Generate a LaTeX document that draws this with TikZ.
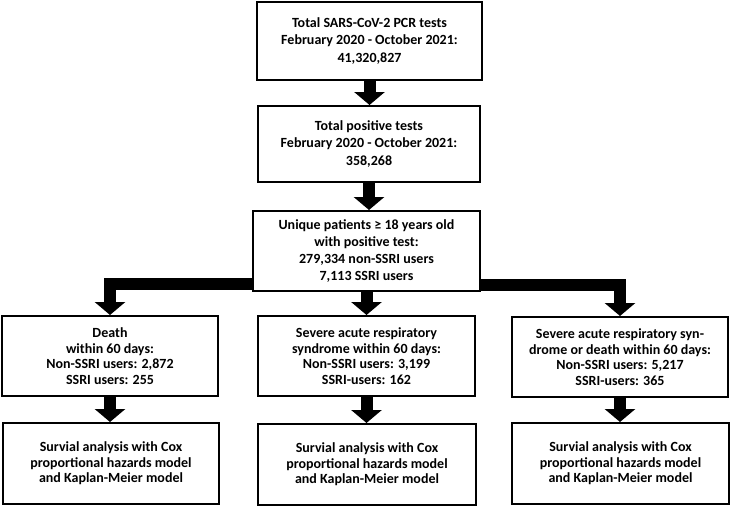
\documentclass[tikz,border=0pt]{standalone}
\usepackage{fontspec}
\setmainfont{Carlito}
\usetikzlibrary{arrows.meta}
\begin{document}
\begin{tikzpicture}[x=1pt,y=-1pt,
  box/.style={draw, line width=2pt, align=center, inner sep=0pt,
    font=\bfseries\fontsize{14}{15.6}\selectfont},
  big/.style={line width=12pt, line join=miter, -{Triangle[width=30pt,length=13pt]}}]
\useasboundingbox (0,0) rectangle (731,506);
\node[box, minimum width=225pt, minimum height=78pt, font=\bfseries\fontsize{14}{17.5}\selectfont] (b1) at (369.5,41)
  {Total SARS-CoV-2 PCR tests\\February 2020 - October 2021:\\41,320,827};
\node[box, minimum width=222pt, minimum height=76pt, font=\bfseries\fontsize{14}{17.5}\selectfont] (b2) at (369,144)
  {Total positive tests\\February 2020 - October 2021:\\358,268};
\node[box, minimum width=227pt, minimum height=80pt, font=\bfseries\fontsize{14}{16.8}\selectfont] (b3) at (366.5,251)
  {Unique patients ≥ 18 years old\\with positive test:\\279,334 non-SSRI users\\7,113 SSRI users};
\node[box, minimum width=216pt, minimum height=80pt] (b4) at (110,356)
  {Death\\within 60 days:\\Non-SSRI users: 2,872\\SSRI users: 255};
\node[box, minimum width=217pt, minimum height=80pt] (b5) at (366.5,356)
  {Severe acute respiratory\\syndrome within 60 days:\\Non-SSRI users: 3,199\\SSRI-users: 162};
\node[box, minimum width=216pt, minimum height=80pt] (b6) at (620,357)
  {Severe acute respiratory syn-\\drome or death within 60 days:\\Non-SSRI users: 5,217\\SSRI-users: 365};
\node[box, minimum width=216pt, minimum height=81pt] (b7) at (111,463.5)
  {Survial analysis with Cox\\proportional hazards model\\and Kaplan-Meier model};
\node[box, minimum width=218pt, minimum height=81pt] (b8) at (367,464.5)
  {Survial analysis with Cox\\proportional hazards model\\and Kaplan-Meier model};
\node[box, minimum width=217pt, minimum height=81pt] (b9) at (620.5,463.5)
  {Survial analysis with Cox\\proportional hazards model\\and Kaplan-Meier model};
\draw[big] (b1.south) -- (b1.south |- b2.north);
\draw[big] (b2.south) -- (b2.south |- b3.north);
\draw[big] (b3.south) -- (b3.south |- b5.north);
\draw[big] ([yshift=8pt]b3.south west) -| (b4.north);
\draw[big] ([yshift=7pt]b3.south east) -| (b6.north);
\draw[big] (b4.south) -- (b4.south |- b7.north);
\draw[big] (b5.south) -- (b5.south |- b8.north);
\draw[big] (b6.south) -- (b6.south |- b9.north);
\end{tikzpicture}
\end{document}
